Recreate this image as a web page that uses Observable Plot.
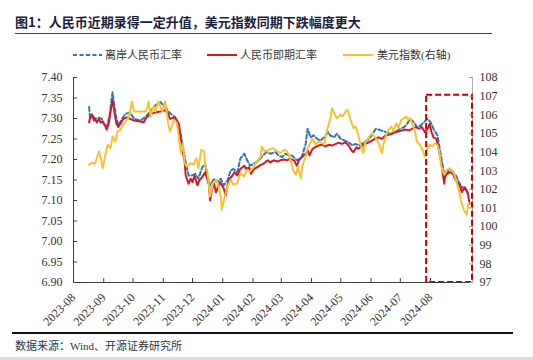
<!DOCTYPE html>
<html><head><meta charset="utf-8">
<script src="https://cdn.jsdelivr.net/npm/d3@7"></script>
<script src="https://cdn.jsdelivr.net/npm/@observablehq/plot@0.6"></script>
<style>
html,body{margin:0;padding:0;background:#fff;}
body{width:533px;height:360px;position:relative;overflow:hidden;font-family:"Noto Sans CJK SC",sans-serif;}
#title{position:absolute;left:15px;top:14px;font-size:13px;font-weight:bold;color:#1c1c3c;white-space:nowrap;line-height:16px;}
#rule{position:absolute;left:15px;top:33px;width:477px;height:1px;background:#444;}
#legend{position:absolute;left:0;top:46px;width:533px;height:18px;}
.lg{position:absolute;top:0;font-family:"Liberation Serif","Noto Sans CJK SC",serif;font-size:11px;color:#333;line-height:18px;white-space:nowrap;}
#chart{position:absolute;left:0;top:66px;}
#foot{position:absolute;left:12px;top:332px;width:501px;height:2px;background:#111;}
#source{position:absolute;left:15px;top:339px;font-family:"Liberation Serif","Noto Sans CJK SC",serif;font-size:11px;color:#333;white-space:nowrap;line-height:14px;}
#band{position:absolute;left:0;top:357px;width:533px;height:3px;background:#dcdcdc;}
</style></head>
<body>
<div id="title">图1：人民币近期录得一定升值，美元指数同期下跌幅度更大</div>
<div id="rule"></div>
<div id="legend"></div>
<div id="chart"></div>
<div id="foot"></div>
<div id="source">数据来源：Wind、开源证券研究所</div>
<div id="band"></div>
<script>
// ---- data ----
const seriesNames = ["离岸人民币汇率", "人民币即期汇率", "美元指数(右轴)"];
const seriesColors = ["#2e75b6", "#d0182a", "#f4c430"];

const monthLabels = ["2023-08","2023-09","2023-10","2023-11","2023-12","2024-01","2024-02","2024-03","2024-04","2024-05","2024-06","2024-07","2024-08"];
const leftTicks = [6.90,6.95,7.00,7.05,7.10,7.15,7.20,7.25,7.30,7.35,7.40];
const rightTicks = [97,98,99,100,101,102,103,104,105,106,107,108];

const offshoreDates = ["2023-08-17","2023-08-18","2023-08-20","2023-08-23","2023-08-27","2023-08-30","2023-09-01","2023-09-04","2023-09-07","2023-09-10","2023-09-13","2023-09-16","2023-09-20","2023-09-23","2023-09-28","2023-10-02","2023-10-09","2023-10-15","2023-10-21","2023-10-24","2023-10-29","2023-11-03","2023-11-07","2023-11-13","2023-11-19","2023-11-24","2023-11-27","2023-11-30","2023-12-04","2023-12-07","2023-12-11","2023-12-14","2023-12-16","2023-12-19","2023-12-23","2023-12-26","2023-12-30","2024-01-02","2024-01-06","2024-01-09","2024-01-12","2024-01-16","2024-01-19","2024-01-23","2024-01-26","2024-01-29","2024-02-02","2024-02-07","2024-02-11","2024-02-15","2024-02-19","2024-02-24","2024-02-27","2024-03-02","2024-03-05","2024-03-09","2024-03-12","2024-03-17","2024-03-22","2024-03-26","2024-03-28","2024-03-31","2024-04-03","2024-04-07","2024-04-10","2024-04-14","2024-04-18","2024-04-20","2024-04-24","2024-04-27","2024-05-01","2024-05-05","2024-05-09","2024-05-13","2024-05-16","2024-05-20","2024-05-25","2024-05-30","2024-06-06","2024-06-11","2024-06-16","2024-06-21","2024-06-26","2024-07-01","2024-07-05","2024-07-08","2024-07-11","2024-07-15","2024-07-18","2024-07-22","2024-07-25","2024-07-29","2024-08-01","2024-08-04","2024-08-08","2024-08-11","2024-08-14","2024-08-16","2024-08-20","2024-08-23","2024-08-27","2024-08-30","2024-09-02","2024-09-06","2024-09-09"];
const offshoreValues = [7.328,7.299,7.310,7.299,7.302,7.299,7.287,7.278,7.307,7.364,7.311,7.283,7.300,7.311,7.315,7.299,7.295,7.307,7.324,7.332,7.340,7.328,7.315,7.303,7.259,7.193,7.161,7.161,7.165,7.153,7.181,7.190,7.161,7.137,7.153,7.145,7.153,7.137,7.149,7.173,7.177,7.169,7.202,7.214,7.198,7.185,7.190,7.198,7.210,7.218,7.214,7.218,7.210,7.206,7.214,7.210,7.210,7.198,7.206,7.238,7.275,7.254,7.259,7.250,7.246,7.254,7.267,7.259,7.254,7.263,7.250,7.246,7.242,7.234,7.238,7.234,7.242,7.250,7.275,7.271,7.267,7.263,7.267,7.275,7.279,7.287,7.299,7.291,7.279,7.283,7.291,7.299,7.291,7.275,7.259,7.218,7.177,7.157,7.177,7.173,7.161,7.145,7.133,7.129,7.112];

const spotDates = ["2023-08-17","2023-08-18","2023-08-20","2023-08-22","2023-08-23","2023-08-25","2023-08-27","2023-08-29","2023-08-31","2023-09-03","2023-09-04","2023-09-06","2023-09-09","2023-09-10","2023-09-12","2023-09-14","2023-09-16","2023-09-19","2023-09-21","2023-09-25","2023-09-28","2023-10-02","2023-10-07","2023-10-12","2023-10-15","2023-10-19","2023-10-24","2023-10-29","2023-11-03","2023-11-06","2023-11-08","2023-11-13","2023-11-17","2023-11-19","2023-11-21","2023-11-23","2023-11-24","2023-11-27","2023-11-29","2023-12-01","2023-12-03","2023-12-06","2023-12-08","2023-12-11","2023-12-14","2023-12-16","2023-12-18","2023-12-19","2023-12-21","2023-12-23","2023-12-25","2023-12-27","2023-12-29","2023-12-31","2024-01-02","2024-01-04","2024-01-06","2024-01-08","2024-01-11","2024-01-13","2024-01-16","2024-01-19","2024-01-23","2024-01-25","2024-01-28","2024-01-30","2024-02-02","2024-02-05","2024-02-09","2024-02-12","2024-02-16","2024-02-19","2024-02-22","2024-02-26","2024-02-29","2024-03-04","2024-03-07","2024-03-10","2024-03-14","2024-03-17","2024-03-19","2024-03-22","2024-03-26","2024-03-28","2024-03-30","2024-04-02","2024-04-05","2024-04-08","2024-04-12","2024-04-15","2024-04-19","2024-04-22","2024-04-26","2024-04-29","2024-05-02","2024-05-06","2024-05-09","2024-05-12","2024-05-14","2024-05-17","2024-05-19","2024-05-23","2024-05-26","2024-05-30","2024-06-02","2024-06-06","2024-06-09","2024-06-12","2024-06-16","2024-06-19","2024-06-23","2024-06-26","2024-06-29","2024-07-03","2024-07-06","2024-07-10","2024-07-13","2024-07-17","2024-07-20","2024-07-23","2024-07-26","2024-07-29","2024-07-31","2024-08-02","2024-08-04","2024-08-07","2024-08-09","2024-08-12","2024-08-15","2024-08-16","2024-08-18","2024-08-21","2024-08-24","2024-08-26","2024-08-28","2024-08-31","2024-09-02","2024-09-05","2024-09-08","2024-09-10"];
const spotValues = [7.291,7.303,7.309,7.295,7.299,7.291,7.299,7.290,7.293,7.279,7.273,7.287,7.332,7.346,7.315,7.287,7.279,7.291,7.299,7.303,7.299,7.295,7.293,7.291,7.303,7.311,7.315,7.317,7.320,7.311,7.299,7.303,7.287,7.251,7.218,7.193,7.161,7.141,7.153,7.145,7.161,7.137,7.149,7.157,7.169,7.153,7.137,7.100,7.129,7.141,7.120,7.132,7.145,7.137,7.129,7.112,7.137,7.153,7.161,7.169,7.161,7.177,7.185,7.177,7.181,7.165,7.177,7.181,7.187,7.190,7.198,7.193,7.198,7.195,7.198,7.200,7.198,7.202,7.198,7.185,7.198,7.206,7.214,7.222,7.210,7.226,7.230,7.234,7.236,7.232,7.236,7.234,7.238,7.241,7.238,7.242,7.234,7.222,7.218,7.230,7.226,7.234,7.238,7.242,7.246,7.252,7.254,7.250,7.259,7.260,7.263,7.267,7.268,7.271,7.273,7.271,7.275,7.279,7.275,7.279,7.267,7.275,7.287,7.267,7.254,7.250,7.230,7.193,7.141,7.161,7.165,7.169,7.165,7.153,7.145,7.137,7.120,7.132,7.120,7.092];

const dxyDates = ["2023-08-17","2023-08-20","2023-08-23","2023-08-27","2023-08-29","2023-08-31","2023-09-03","2023-09-05","2023-09-08","2023-09-10","2023-09-13","2023-09-15","2023-09-18","2023-09-21","2023-09-23","2023-09-26","2023-09-28","2023-09-30","2023-10-02","2023-10-09","2023-10-14","2023-10-16","2023-10-17","2023-10-19","2023-10-22","2023-10-24","2023-10-27","2023-10-31","2023-11-03","2023-11-06","2023-11-08","2023-11-12","2023-11-15","2023-11-16","2023-11-19","2023-11-21","2023-11-23","2023-11-25","2023-11-29","2023-12-02","2023-12-05","2023-12-07","2023-12-10","2023-12-13","2023-12-14","2023-12-16","2023-12-18","2023-12-19","2023-12-22","2023-12-25","2023-12-27","2023-12-30","2023-12-31","2024-01-03","2024-01-06","2024-01-09","2024-01-12","2024-01-16","2024-01-19","2024-01-23","2024-01-26","2024-01-29","2024-02-02","2024-02-05","2024-02-09","2024-02-10","2024-02-13","2024-02-17","2024-02-21","2024-02-24","2024-02-29","2024-03-04","2024-03-07","2024-03-10","2024-03-13","2024-03-16","2024-03-18","2024-03-21","2024-03-23","2024-03-26","2024-03-28","2024-03-30","2024-04-02","2024-04-05","2024-04-08","2024-04-12","2024-04-14","2024-04-17","2024-04-20","2024-04-22","2024-04-25","2024-04-27","2024-05-01","2024-05-03","2024-05-06","2024-05-08","2024-05-11","2024-05-14","2024-05-16","2024-05-18","2024-05-21","2024-05-24","2024-05-26","2024-05-30","2024-06-02","2024-06-06","2024-06-09","2024-06-12","2024-06-14","2024-06-17","2024-06-19","2024-06-22","2024-06-24","2024-06-27","2024-06-29","2024-07-02","2024-07-05","2024-07-07","2024-07-09","2024-07-11","2024-07-13","2024-07-16","2024-07-18","2024-07-21","2024-07-23","2024-07-26","2024-07-29","2024-07-31","2024-08-03","2024-08-05","2024-08-08","2024-08-10","2024-08-12","2024-08-15","2024-08-18","2024-08-21","2024-08-25","2024-08-27","2024-08-30","2024-09-01","2024-09-04","2024-09-07","2024-09-09"];
const dxyValues = [103.32,103.44,103.37,104.03,103.67,103.13,103.94,104.39,104.21,104.83,104.57,105.10,105.19,105.46,105.59,105.82,106.18,106.71,106.18,106.18,106.18,106.44,106.71,105.91,106.44,106.18,106.71,106.18,106.71,105.55,105.10,105.73,105.55,105.19,103.94,104.47,103.40,103.22,103.40,103.32,103.67,103.13,104.12,104.03,103.22,103.05,102.15,101.61,102.33,102.51,102.33,101.61,100.90,101.61,102.15,102.51,102.24,102.33,102.86,102.69,103.05,102.96,103.22,103.49,103.76,104.30,104.03,104.12,104.21,104.12,103.94,104.12,104.03,103.67,103.05,102.78,103.22,102.60,103.32,103.76,104.21,104.39,104.74,104.39,104.57,104.47,104.39,105.19,105.73,106.35,106.00,105.82,106.00,105.91,106.18,106.27,105.73,105.28,105.37,105.10,104.47,103.94,104.47,104.83,105.01,104.74,104.47,103.94,104.47,105.01,105.19,105.37,105.10,105.55,105.28,105.73,105.82,105.91,105.73,105.82,105.55,105.10,104.57,104.39,104.21,103.76,104.21,104.39,104.30,104.47,104.39,104.03,103.22,102.78,103.05,103.13,102.86,102.51,101.97,101.44,100.90,100.63,101.26];

const xDomain = ["2023-08-01", "2024-09-13"];
const leftDomain = [6.90, 7.40];
const rightDomain = [97, 108];
const highlightBox = {start: "2024-07-28", end: "2024-09-13", low: 97, high: 107.05};

// ---- build ----
const toLeft = d3.scaleLinear(rightDomain, leftDomain);
const mk = (ds, vs) => ds.map((d, i) => ({date: new Date(d), value: vs[i]}));
const offshore = mk(offshoreDates, offshoreValues);
const spot = mk(spotDates, spotValues);
const dxy = mk(dxyDates, dxyValues);
const monthTicks = monthLabels.map(m => new Date(m + "-01"));
const x0 = new Date(xDomain[0]), x1 = new Date(xDomain[1]);

// legend
const legendSpec = [
  {sx1: 73, sx2: 102, tx: 105, dash: "4,2.5"},
  {sx1: 207, sx2: 237, tx: 240, dash: null},
  {sx1: 343, sx2: 373, tx: 377, dash: null}
];
const lg = document.getElementById("legend");
const ns = "http://www.w3.org/2000/svg";
const lsvg = document.createElementNS(ns, "svg");
lsvg.setAttribute("width", 533); lsvg.setAttribute("height", 18);
lsvg.style.position = "absolute"; lsvg.style.left = "0"; lsvg.style.top = "0";
legendSpec.forEach((s, i) => {
  const l = document.createElementNS(ns, "line");
  l.setAttribute("x1", s.sx1); l.setAttribute("x2", s.sx2);
  l.setAttribute("y1", 9); l.setAttribute("y2", 9);
  l.setAttribute("stroke", seriesColors[i]); l.setAttribute("stroke-width", 2);
  if (s.dash) l.setAttribute("stroke-dasharray", s.dash);
  lsvg.appendChild(l);
  const t = document.createElement("div");
  t.className = "lg"; t.style.left = s.tx + "px"; t.textContent = seriesNames[i];
  lg.appendChild(t);
});
lg.appendChild(lsvg);

const chart = Plot.plot({
  width: 533,
  height: 264,
  marginLeft: 73,
  marginRight: 61,
  marginTop: 11,
  marginBottom: 48,
  style: {fontFamily: "'Liberation Serif', 'Times New Roman', serif", fontSize: "12px", color: "#333", background: "transparent"},
  x: {type: "utc", domain: [x0, x1]},
  y: {domain: leftDomain},
  marks: [
    Plot.ruleX([x1], {stroke: "#b0b0b0", strokeWidth: 1}),
    Plot.line(offshore, {x: "date", y: "value", stroke: seriesColors[0], strokeWidth: 2, strokeDasharray: "4,2.5"}),
    Plot.line(spot, {x: "date", y: "value", stroke: seriesColors[1], strokeWidth: 2}),
    Plot.line(dxy, {x: "date", y: d => toLeft(d.value), stroke: seriesColors[2], strokeWidth: 2}),
    Plot.rect([highlightBox], {
      x1: d => new Date(d.start), x2: d => new Date(d.end),
      y1: d => toLeft(d.low), y2: d => toLeft(d.high),
      fill: "none", stroke: "#c00000", strokeWidth: 2, strokeDasharray: "6,3"
    }),
    Plot.ruleX([x0], {stroke: "#404040", strokeWidth: 1}),
    Plot.ruleY([leftDomain[0]], {stroke: "#404040", strokeWidth: 1}),
    Plot.axisY(leftTicks, {anchor: "left", label: null, tickFormat: d3.format(".2f"), tickSize: -4, tickPadding: 15, stroke: "#404040", fill: "#333"}),
    Plot.axisY(rightTicks.map(v => toLeft(v)), {anchor: "right", label: null, tickFormat: v => String(Math.round(toLeft.invert(v))), tickSize: -4, tickPadding: 11, stroke: "#999", fill: "#333"}),
    Plot.axisX(monthTicks, {label: null, tickFormat: d3.utcFormat("%Y-%m"), tickRotate: -45, tickSize: -4, tickPadding: 17, stroke: "#404040", fill: "#333"})
  ]
});
document.getElementById("chart").appendChild(chart);
</script>
</body></html>
